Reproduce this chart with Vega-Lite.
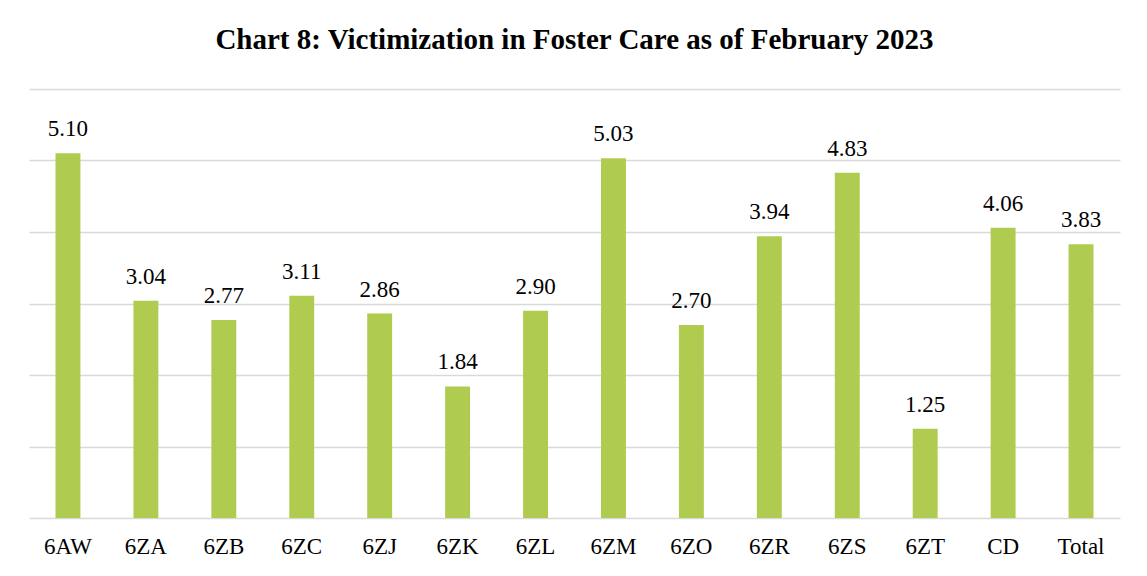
{
  "$schema": "https://vega.github.io/schema/vega-lite/v6.json",
  "width": 1091,
  "height": 429,
  "autosize": "none",
  "padding": {"left": 29, "top": 89, "right": 27, "bottom": 58},
  "background": "white",
  "title": {
    "text": "Chart 8: Victimization in Foster Care as of February 2023",
    "font": "Liberation Serif",
    "fontSize": 29,
    "fontWeight": "bold",
    "color": "#000000",
    "anchor": "middle",
    "offset": 34
  },
  "data": {
    "values": [
      {"unit": "6AW", "value": 5.10},
      {"unit": "6ZA", "value": 3.04},
      {"unit": "6ZB", "value": 2.77},
      {"unit": "6ZC", "value": 3.11},
      {"unit": "6ZJ", "value": 2.86},
      {"unit": "6ZK", "value": 1.84},
      {"unit": "6ZL", "value": 2.90},
      {"unit": "6ZM", "value": 5.03},
      {"unit": "6ZO", "value": 2.70},
      {"unit": "6ZR", "value": 3.94},
      {"unit": "6ZS", "value": 4.83},
      {"unit": "6ZT", "value": 1.25},
      {"unit": "CD", "value": 4.06},
      {"unit": "Total", "value": 3.83}
    ]
  },
  "encoding": {
    "x": {
      "field": "unit",
      "type": "nominal",
      "sort": null,
      "scale": {"paddingInner": 0.68, "paddingOuter": 0.34},
      "axis": {
        "title": null,
        "labelAngle": 0,
        "labelFont": "Liberation Serif",
        "labelFontSize": 23,
        "labelColor": "#000000",
        "labelPadding": 17,
        "ticks": false,
        "domain": false
      }
    },
    "y": {
      "field": "value",
      "type": "quantitative",
      "scale": {"domain": [0, 6], "nice": false},
      "axis": {
        "title": null,
        "labels": false,
        "ticks": false,
        "domain": false,
        "values": [0, 1, 2, 3, 4, 5, 6],
        "grid": true,
        "gridColor": "#d9d9d9",
        "gridWidth": 1.5
      }
    }
  },
  "layer": [
    {"mark": {"type": "bar", "color": "#b0cc50"}},
    {
      "mark": {
        "type": "text",
        "font": "Liberation Serif",
        "fontSize": 23,
        "color": "#000000",
        "baseline": "alphabetic",
        "dy": -17
      },
      "encoding": {
        "text": {"field": "value", "type": "quantitative", "format": ".2f"}
      }
    }
  ],
  "config": {
    "view": {"stroke": null}
  }
}
